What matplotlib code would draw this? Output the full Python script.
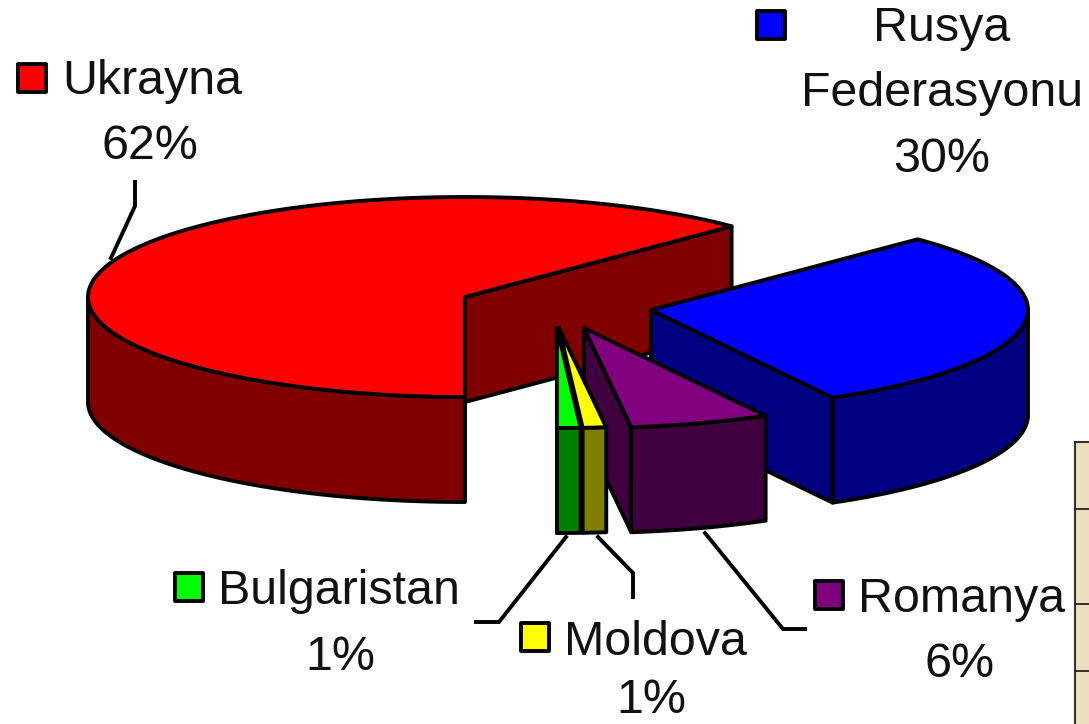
from matplotlib import pyplot as plt
from matplotlib.patches import Polygon, Rectangle
import numpy as np

plt.rcParams['font.family'] = ['Liberation Sans', 'DejaVu Sans']

# drawing order is back to front
countries = ["Ukrayna", "Rusya Federasyonu", "Romanya", "Moldova", "Bulgaristan"]
shares = [62.5, 29.5, 6, 1, 1]
top_colors = ["#FF0000", "#0000FF", "#800080", "#FFFF00", "#00FF00"]
side_colors = ["#800000", "#000080", "#400040", "#808000", "#008000"]

# exploded centre of each slice, in picture pixels
centers = [(465, 297), (651, 310), (584, 328), (559, 328), (557, 328)]

RX = 377
RY = 100
DEPTH = 105
LW = 2.8

fig = plt.figure(figsize=(10.89, 7.24), dpi=100)
ax = fig.add_axes([0, 0, 1, 1])
ax.set_xlim(0, 1089)
ax.set_ylim(724, 0)
ax.axis("off")


def rim(cx, cy, t0, t1, dy=0):
    t = np.radians(np.linspace(t0, t1, 120))
    return np.column_stack([cx + RX * np.cos(t), cy + dy - RY * np.sin(t)])


def patch(pts, color, zorder):
    ax.add_patch(Polygon(pts, closed=True, facecolor=color, edgecolor="k",
                         linewidth=LW, joinstyle="round", zorder=zorder))


# slices go clockwise from straight down
stops = 270 - np.cumsum([0] + shares) * 360 / sum(shares)

z = 2
for i in range(len(shares)):
    hi, lo = stops[i], stops[i + 1]
    cx, cy = centers[i]

    # radial wall on the clockwise end of the slice
    end = rim(cx, cy, lo, lo)[0]
    patch([(cx, cy), end, end + (0, DEPTH), (cx, cy + DEPTH)], side_colors[i], z)

    # outer wall, only the front half of the rim can be seen
    if hi > 180:
        a, b = max(lo, 180), hi
    else:
        a, b = lo, min(hi, 0)
    if b > a:
        front = rim(cx, cy, a, b)
        patch(np.vstack([front, rim(cx, cy, b, a, DEPTH)]), side_colors[i], z + 0.1)

    patch(np.vstack([[(cx, cy)], rim(cx, cy, lo, hi)]), top_colors[i], z + 0.2)
    z += 1

# picture behind the chart, bottom right corner
ax.add_patch(Rectangle((1075, 442), 40, 300, facecolor="#EFDDBF", edgecolor="#333333",
                       linewidth=1.5, zorder=1))
for y in [509, 604, 671]:
    ax.plot([1075, 1089], [y, y], color="#222222", lw=1.3, zorder=1)

# leader lines
leaders = [
    [(135, 182), (135, 206), (111, 258)],
    [(476, 622), (499, 622), (566, 537)],
    [(633, 597), (633, 573), (598, 537)],
    [(805, 629), (783, 629), (705, 533)],
]
for line in leaders:
    xs, ys = zip(*line)
    ax.plot(xs, ys, color="k", lw=LW, solid_joinstyle="miter", zorder=10)

# legend keys
keys = [(18, 64, 0), (757, 11, 1), (815, 581, 2), (521, 623, 3), (175, 573, 4)]
for x, y, i in keys:
    ax.add_patch(Rectangle((x, y), 28, 28, facecolor=top_colors[i], edgecolor="k",
                           linewidth=LW, joinstyle="round", zorder=10))

labels = [
    (62, 94, "Ukrayna", "left"),
    (150, 159, "62%", "center"),
    (942, 41, "Rusya", "center"),
    (942, 106, "Federasyonu", "center"),
    (942, 172, "30%", "center"),
    (218, 604, "Bulgaristan", "left"),
    (340, 670, "1%", "center"),
    (564, 655, "Moldova", "left"),
    (651, 713, "1%", "center"),
    (858, 612, "Romanya", "left"),
    (960, 677, "6%", "center"),
]
for x, y, s, ha in labels:
    ax.text(x, y, s, ha=ha, va="baseline", fontsize=34.8, color="#111111", zorder=11)

fig.savefig("out.png", dpi=100)
